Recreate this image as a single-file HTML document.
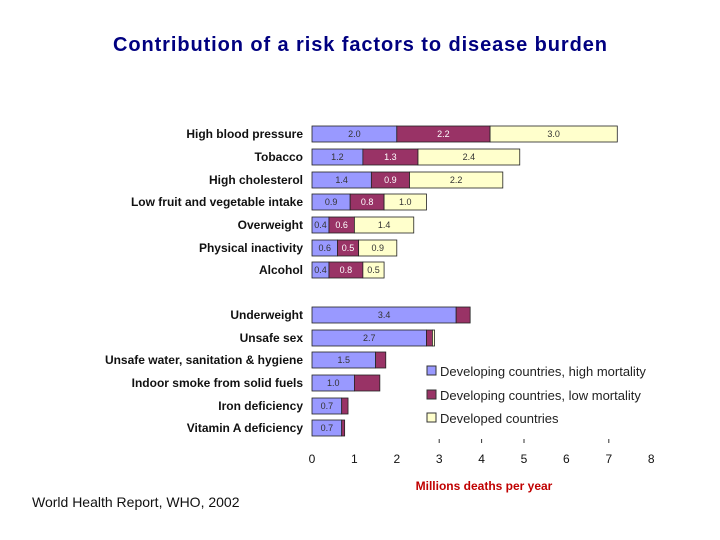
<!DOCTYPE html>
<html><head><meta charset="utf-8"><style>
body{margin:0;background:#fff;}
svg{display:block;font-family:"Liberation Sans",Arial,sans-serif;}
</style></head><body>
<svg width="720" height="540" id="chart">
<text x="113" y="51" textLength="494" lengthAdjust="spacing" font-size="20" font-weight="bold" fill="#000080">Contribution of a risk factors to disease burden</text>
<text x="32" y="507" font-size="14" fill="#111">World Health Report, WHO, 2002</text>
<text x="484" y="490" text-anchor="middle" font-size="12" font-weight="bold" fill="#c00000">Millions deaths per year</text>
<g id="bars"></g>
<g id="legend">
<rect x="427" y="366" width="9" height="9" fill="#9999ff" stroke="#333"/>
<text x="440" y="376" font-size="13" fill="#222">Developing countries, high mortality</text>
<rect x="427" y="390" width="9" height="9" fill="#993366" stroke="#333"/>
<text x="440" y="400" font-size="13" fill="#222">Developing countries, low mortality</text>
<rect x="427" y="413" width="9" height="9" fill="#ffffcc" stroke="#333"/>
<text x="440" y="423" font-size="13" fill="#222">Developed countries</text>
</g>
</svg>
<script>
const categories=["High blood pressure","Tobacco","High cholesterol","Low fruit and vegetable intake","Overweight","Physical inactivity","Alcohol","Underweight","Unsafe sex","Unsafe water, sanitation & hygiene","Indoor smoke from solid fuels","Iron deficiency","Vitamin A deficiency"];
const highMort=[2.0,1.2,1.4,0.9,0.4,0.6,0.4,3.4,2.7,1.5,1.0,0.7,0.7];
const lowMort=[2.2,1.3,0.9,0.8,0.6,0.5,0.8,0.33,0.14,0.24,0.6,0.15,0.07];
const developed=[3.0,2.4,2.2,1.0,1.4,0.9,0.5,0,0.05,0,0,0,0];
const showLabels=[true,true,true,true,true,true,true,false,false,false,false,false,false];
const xTicks=[0,1,2,3,4,5,6,7,8];
const rowY=[134,157,180,202,225,248,270,315,338,360,383,406,428];
const NS="http://www.w3.org/2000/svg";
const x0=312,scale=42.4;
function xs(v){return x0+v*scale;}
const g=document.getElementById('bars');
function mk(t,a){const e=document.createElementNS(NS,t);for(const k in a)e.setAttribute(k,a[k]);return e;}
const colors=["#9999ff","#993366","#ffffcc"];
const series=[highMort,lowMort,developed];
const names=["high","low","developed"];
categories.forEach((c,i)=>{
  const y=rowY[i];
  const lab=mk('text',{x:303,y:y+4,'text-anchor':'end','font-size':12,'font-weight':'bold',fill:'#111'});
  lab.textContent=c;
  
  
  g.appendChild(lab);
  let acc=0;
  series.forEach((s,k)=>{
    const v=s[i];
    if(v<=0)return;
    const r=mk('rect',{x:xs(acc),y:y-8,width:v*scale,height:16,fill:colors[k],stroke:'#222','stroke-width':0.8});
    
    
    g.appendChild(r);
    if(showLabels[i]||k===0){
      const t=mk('text',{x:xs(acc+v/2),y:y+3,'text-anchor':'middle','font-size':9,fill:k===1?'#fff':'#333'});
      t.textContent=v.toFixed(1);
      
      
      g.appendChild(t);
    }
    acc+=v;
  });
});
xTicks.forEach(v=>{
  const t=mk('text',{x:xs(v),y:463,'text-anchor':'middle','font-size':12,fill:'#111'});
  t.textContent=v;
  
  
  g.appendChild(t);
  if(v>=3&&v!==6&&v!==8){
    const l=mk('line',{x1:xs(v),x2:xs(v),y1:439,y2:443,stroke:'#333'});
    
    
    g.appendChild(l);
  }
});
</script>
</body></html>
